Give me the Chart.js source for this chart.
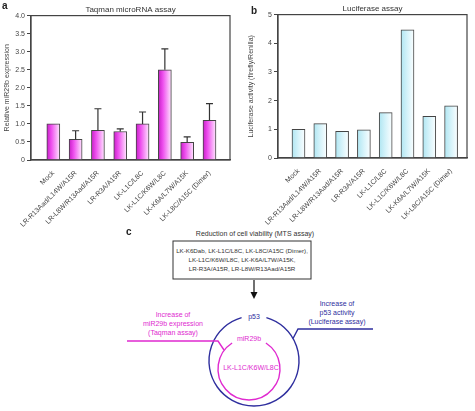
<!DOCTYPE html>
<html>
<head>
<meta charset="utf-8">
<script src="https://cdn.jsdelivr.net/npm/chart.js@4.4.0/dist/chart.umd.min.js"></script>
<style>
body{margin:0;background:#fff;width:475px;height:411px;position:relative;overflow:hidden;font-family:"Liberation Sans",Arial,sans-serif}
#wrapA{position:absolute;left:0;top:0;width:240px;height:232px}
#wrapB{position:absolute;left:240px;top:0;width:235px;height:232px}
.lbl{position:absolute;font-weight:bold;font-size:10px;color:#222}
#diagram{position:absolute;left:0;top:0}
</style>
</head>
<body>
<svg id="diagram" width="475" height="411" font-family="Liberation Sans, Arial, sans-serif">
  <text x="255" y="236" font-size="7" fill="#333" text-anchor="middle">Reduction of cell viability (MTS assay)</text>
  <rect x="173" y="241" width="138" height="38" fill="none" stroke="#333" stroke-width="1"/>
  <g font-size="6.2" fill="#333" text-anchor="middle">
    <text x="242" y="253">LK-K6Dab, LK-L1C/L8C, LK-L8C/A15C (Dimer),</text>
    <text x="242" y="262">LK-L1C/K6W/L8C, LK-K6A/L7W/A15K,</text>
    <text x="242" y="271">LR-R3A/A15R, LR-L8W/R13Aad/A15R</text>
  </g>
  <line x1="254" y1="280" x2="254" y2="293" stroke="#111" stroke-width="1.2"/>
  <polygon points="250.5,292 257.5,292 254,299" fill="#111"/>
  <!-- p53 circle -->
  <path d="M 266.4 317.7 A 45 45 0 1 1 241.6 317.7" fill="none" stroke="#2e2e9e" stroke-width="1.4"/>
  <path d="M 293 338.5 L 298 329 L 373 329" fill="none" stroke="#2e2e9e" stroke-width="1.4"/>
  <text x="254" y="319" font-size="7" fill="#2e2e9e" text-anchor="middle">p53</text>
  <g font-size="7" fill="#2e2e9e" text-anchor="middle">
    <text x="337" y="306">Increase of</text>
    <text x="337" y="315">p53 activity</text>
    <text x="337" y="324">(Luciferase assay)</text>
  </g>
  <!-- miR29b circle -->
  <path d="M 265.9 343 A 31 31 0 1 1 232.1 343" fill="none" stroke="#e02ad0" stroke-width="1.4"/>
  <path d="M 127 341 L 218 341 L 224 350" fill="none" stroke="#e02ad0" stroke-width="1.4"/>
  <text x="249" y="341" font-size="7" fill="#e02ad0" text-anchor="middle">miR29b</text>
  <text x="251" y="370" font-size="7" fill="#e02ad0" text-anchor="middle">LK-L1C/K6W/L8C</text>
  <g font-size="7" fill="#e02ad0" text-anchor="middle">
    <text x="173" y="317">Increase of</text>
    <text x="173" y="326">miR29b expression</text>
    <text x="173" y="335">(Taqman assay)</text>
  </g>
</svg>
<div id="wrapA"><canvas id="taqmanChart"></canvas></div>
<div id="wrapB"><canvas id="luciferaseChart"></canvas></div>
<div class="lbl" style="left:2px;top:0px">a</div>
<div class="lbl" style="left:251px;top:5px">b</div>
<div class="lbl" style="left:126px;top:226px">c</div>
<script>
const assays = ['Mock', 'LR-R13Aad/L14W/A15R', 'LR-L8W/R13Aad/A15R', 'LR-R3A/A15R',
    'LK-L1C/L8C', 'LK-L1C/K6W/L8C', 'LK-K6A/L7W/A15K', 'LK-L8C/A15C (Dimer)'];
const taqmanValues = [1.0, 0.57, 0.82, 0.79, 1.0, 2.5, 0.49, 1.1];
const taqmanErrors = [0, 0.24, 0.6, 0.07, 0.33, 0.58, 0.15, 0.46];
const luciferaseValues = [1.0, 1.2, 0.93, 0.98, 1.58, 4.47, 1.45, 1.82];

const axisColor = '#444';
const tickFont = { family: 'Liberation Sans', size: 7 };

// error bars, upper side only
const errorBars = {
    id: 'errorBars',
    afterDatasetsDraw(chart, args, opts) {
        if (!opts.errors) return;
        const ctx = chart.ctx;
        const y = chart.scales.y;
        const data = chart.data.datasets[0].data;
        ctx.save();
        ctx.strokeStyle = '#333';
        ctx.lineWidth = 1.2;
        chart.getDatasetMeta(0).data.forEach((bar, i) => {
            const e = opts.errors[i];
            if (!e) return;
            const top = y.getPixelForValue(data[i].y + e);
            ctx.beginPath();
            ctx.moveTo(bar.x, bar.y);
            ctx.lineTo(bar.x, top);
            ctx.moveTo(bar.x - 3.5, top);
            ctx.lineTo(bar.x + 3.5, top);
            ctx.stroke();
        });
        ctx.restore();
    }
};

// box round the plot area
const frame = {
    id: 'frame',
    afterDatasetsDraw(chart) {
        const { ctx, chartArea: a } = chart;
        ctx.save();
        ctx.strokeStyle = axisColor;
        ctx.lineWidth = 1.2;
        ctx.strokeRect(a.left, a.top, a.right - a.left, a.bottom - a.top);
        ctx.restore();
    }
};

function gradientFill(stops) {
    return function(context) {
        const chart = context.chart;
        if (!chart.chartArea || !chart.scales.x) return stops[0][1];
        const cx = chart.scales.x.getPixelForValue(context.dataIndex + 1);
        const g = chart.ctx.createLinearGradient(cx - 6.5, 0, cx + 6.5, 0);
        stops.forEach(s => g.addColorStop(s[0], s[1]));
        return g;
    };
}

function makeChart(canvasId, cfg) {
    return new Chart(document.getElementById(canvasId), {
        type: 'bar',
        data: {
            datasets: [{
                data: cfg.values.map((v, i) => ({ x: i + 1, y: v })),
                backgroundColor: gradientFill(cfg.stops),
                borderColor: '#444',
                borderWidth: 1,
                borderSkipped: 'bottom',
                barThickness: 13
            }]
        },
        options: {
            responsive: true,
            maintainAspectRatio: false,
            animation: false,
            layout: { padding: { left: cfg.padLeft, right: cfg.padRight, top: 0, bottom: 0 } },
            plugins: {
                legend: { display: false },
                tooltip: { enabled: false },
                title: {
                    display: true,
                    text: cfg.title,
                    fullSize: false,
                    color: '#333',
                    font: { family: 'Liberation Sans', size: 8, weight: 'normal' },
                    padding: { top: cfg.titleTop, bottom: 1 }
                },
                errorBars: { errors: cfg.errors }
            },
            scales: {
                x: {
                    type: 'linear',
                    min: cfg.xMin,
                    max: cfg.xMax,
                    offset: false,
                    afterBuildTicks(s) { s.ticks = assays.map((_, i) => ({ value: i + 1 })); },
                    afterFit(s) { s.height = cfg.xHeight; },
                    ticks: {
                        autoSkip: false,
                        minRotation: 45,
                        maxRotation: 45,
                        padding: 1,
                        color: '#444',
                        font: tickFont,
                        callback: v => assays[v - 1] || ''
                    },
                    grid: { display: false },
                    border: { color: axisColor, width: 1.2 }
                },
                y: {
                    min: 0,
                    max: cfg.yMax,
                    afterFit(s) { s.width = cfg.yWidth; },
                    ticks: {
                        stepSize: cfg.yStep,
                        padding: 2,
                        color: '#444',
                        font: tickFont,
                        callback: cfg.yFormat
                    },
                    grid: { drawOnChartArea: false, tickLength: 4, color: axisColor },
                    border: { color: axisColor, width: 1.2 },
                    title: {
                        display: true,
                        text: cfg.yTitle,
                        color: '#444',
                        font: tickFont,
                        padding: 0
                    }
                }
            }
        },
        plugins: [errorBars, frame]
    });
}

makeChart('taqmanChart', {
    title: 'Taqman microRNA assay',
    yTitle: 'Relative miR29b expression',
    values: taqmanValues,
    errors: taqmanErrors,
    stops: [[0, '#c61fc6'], [0.35, '#ee4fee'], [1, '#ffe6ff']],
    yMax: 4,
    yStep: 0.5,
    yFormat: v => v === 0 ? '0' : v.toFixed(1),
    xMin: 0,
    xMax: 8.92,
    padLeft: 3,
    yWidth: 28,
    xHeight: 72,
    padRight: 10,
    titleTop: 5
});

makeChart('luciferaseChart', {
    title: 'Luciferase assay',
    yTitle: 'Luciferase activity (firefly/Renilla)',
    values: luciferaseValues,
    errors: null,
    stops: [[0, '#b0e6f2'], [0.5, '#d6f3fa'], [1, '#fbfeff']],
    yMax: 5,
    yStep: 1,
    yFormat: v => String(v),
    xMin: 0.06,
    xMax: 8.73,
    padLeft: 7,
    yWidth: 31,
    xHeight: 74,
    padRight: 8,
    titleTop: 4
});
</script>
</body>
</html>
